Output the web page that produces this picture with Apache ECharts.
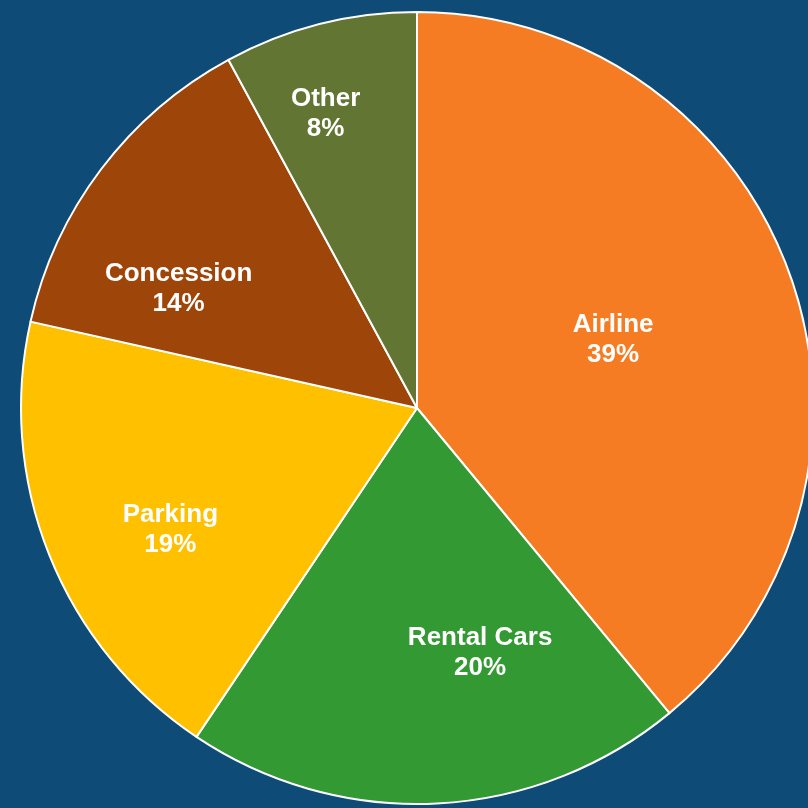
<!DOCTYPE html>
<html>
<head>
<meta charset="utf-8">
<script src="https://cdn.jsdelivr.net/npm/echarts@6/dist/echarts.min.js"></script>
<style>
  html, body { margin: 0; padding: 0; background: #0E4C77; }
  #main { width: 808px; height: 808px; }
</style>
</head>
<body>
<div id="main"></div>
<script>
// 收入构成
var categories = ['Airline', 'Rental Cars', 'Parking', 'Concession', 'Other'];
var values = [39, 20.4, 19.1, 13.6, 7.9];

var colors = ['#F57C22', '#339933', '#FFC000', '#9E4509', '#637533'];
// label nudges (px) so text sits where the original put it
var labelOffsets = [[7, 0], [53, 44], [-60, 47], [-78, 2], [-42, -99]];

var chart = echarts.init(document.getElementById('main'));

var seriesData = categories.map(function (name, i) {
  return {
    name: name,
    value: values[i],
    itemStyle: { color: colors[i] },
    label: { offset: labelOffsets[i] }
  };
});

var option = {
  backgroundColor: '#0E4C77',
  animation: false,
  series: [
    {
      type: 'pie',
      center: [417, 408],
      radius: [0, 396],
      startAngle: 90,
      clockwise: true,
      data: seriesData,
      itemStyle: {
        borderColor: '#ffffff',
        borderWidth: 2
      },
      label: {
        show: true,
        position: 'inside',
        color: '#ffffff',
        fontFamily: "'Liberation Sans', Arial, sans-serif",
        fontWeight: 'bold',
        fontSize: 26,
        lineHeight: 30,
        formatter: function (p) {
          return p.name + '\n' + Math.round(p.percent) + '%';
        }
      },
      labelLine: { show: false },
      emphasis: { disabled: true }
    }
  ]
};

chart.setOption(option);
</script>
</body>
</html>
